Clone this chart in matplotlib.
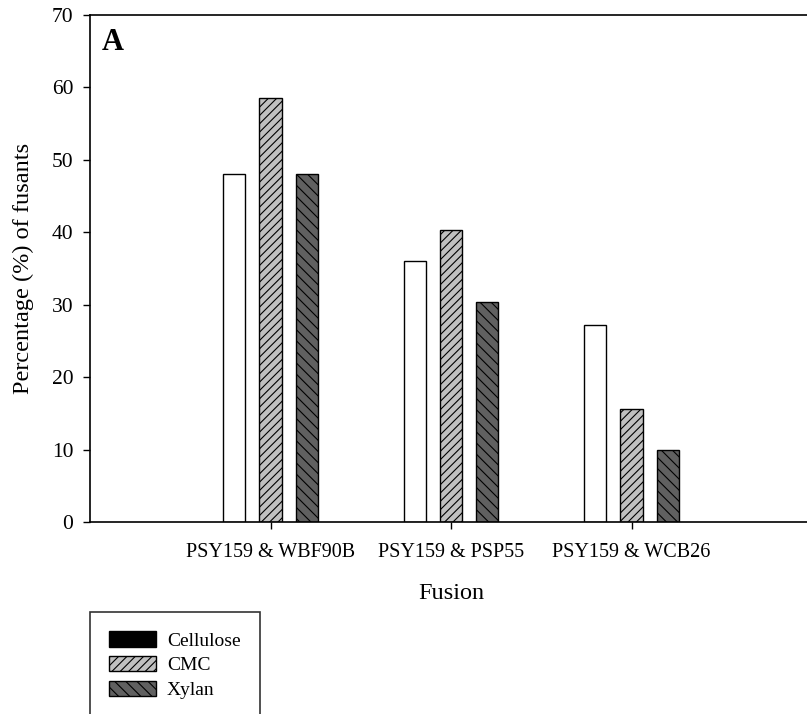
import numpy as np
import matplotlib
matplotlib.use("Agg")
import matplotlib.pyplot as plt
from matplotlib.patches import Patch

# Data
fusions = ["PSY159 & WBF90B", "PSY159 & PSP55", "PSY159 & WCB26"]
cellulose = [48.0, 36.1, 27.2]
cmc = [58.6, 40.3, 15.6]
xylan = [48.0, 30.4, 10.0]

plt.rcParams['font.family'] = ['Liberation Serif', 'DejaVu Serif']
plt.rcParams['hatch.linewidth'] = 0.8

fig = plt.figure(figsize=(8.07, 7.14), dpi=100)
ax = fig.add_axes([90 / 807, 1 - 522 / 714, 722 / 807, 507 / 714])

x = np.arange(1, len(fusions) + 1)
w = 0.122
off = 0.2
ax.bar(x - off, cellulose, w, color='white', edgecolor='black', linewidth=1)
ax.bar(x, cmc, w, color='#c0c0c0', edgecolor='black', linewidth=1, hatch='////')
ax.bar(x + off, xylan, w, color='#606060', edgecolor='black', linewidth=1, hatch='\\\\\\')

ax.set_xlim(0, 4)
ax.set_ylim(0, 70)
ax.set_yticks(range(0, 71, 10))
ax.set_xticks(x)
ax.set_xticklabels(fusions)
ax.tick_params(axis='both', direction='out', length=5, width=1)
ax.tick_params(axis='y', labelsize=15.5, pad=7)
ax.tick_params(axis='x', labelsize=14.5, pad=10)
ax.spines['right'].set_visible(False)
for s in ['left', 'top', 'bottom']:
    ax.spines[s].set_linewidth(1.2)

ax.set_ylabel("Percentage (%) of fusants", fontsize=17.5)
ax.yaxis.set_label_coords((34 - 90) / 722, 0.5)
ax.set_xlabel("Fusion", fontsize=17.5)
ax.xaxis.set_label_coords(0.5, -(583 - 522) / 507)

ax.text(102 / 807, 1 - 42 / 714, "A", transform=fig.transFigure,
        fontsize=22, fontweight='bold', va='center', ha='left')

handles = [Patch(facecolor='black', edgecolor='black', label='Cellulose'),
           Patch(facecolor='#c0c0c0', edgecolor='black', hatch='////', label='CMC'),
           Patch(facecolor='#606060', edgecolor='black', hatch='\\\\\\', label='Xylan')]
leg = fig.legend(handles=handles, loc='upper left',
                 bbox_to_anchor=(90 / 807, 1 - 612 / 714), fontsize=14,
                 frameon=True, fancybox=False, edgecolor='black',
                 handlelength=2.4, handleheight=0.82, handletextpad=0.55,
                 labelspacing=0.33, borderpad=1.0, borderaxespad=0)
leg.get_frame().set_linewidth(1.2)

fig.savefig("out.png", dpi=100)
